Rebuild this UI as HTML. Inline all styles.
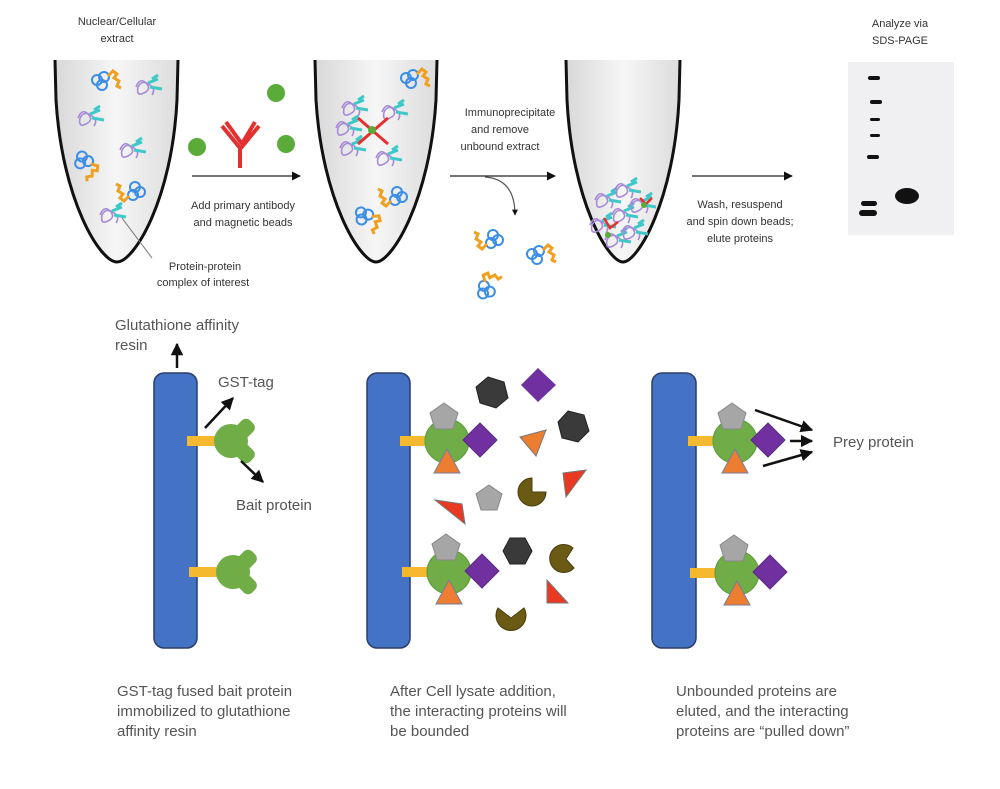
<!DOCTYPE html>
<html><head><meta charset="utf-8"><style>
html,body{margin:0;padding:0;background:#fff;}
svg{display:block;}
text{font-family:"Liberation Sans",sans-serif;}
</style></head><body>
<svg width="1000" height="789" viewBox="0 0 1000 789" xmlns="http://www.w3.org/2000/svg">
<defs>
<linearGradient id="tg" x1="0" x2="1" y1="0" y2="0">
<stop offset="0" stop-color="#d8d8d8"/><stop offset="0.5" stop-color="#f6f6f6"/><stop offset="1" stop-color="#dcdcdc"/>
</linearGradient>
<marker id="ah" viewBox="0 0 10 10" refX="9" refY="5" markerWidth="7" markerHeight="7" orient="auto"><path d="M0,0 L10,5 L0,10 z" fill="#111"/></marker>
<marker id="ah2" viewBox="0 0 10 10" refX="9" refY="5" markerWidth="5" markerHeight="5" orient="auto"><path d="M0,0 L10,5 L0,10 z" fill="#111"/></marker>
<g id="cx">
<rect x="-47" y="-5" width="36" height="10" fill="#f4b92e"/>
<circle cx="0" cy="0" r="22" fill="#70ad47" stroke="#5a9a3a" stroke-width="1"/>
<polygon points="-3,-38 11,-28 6,-12 -12,-12 -17,-28" fill="#a6a6a6" stroke="#888"/>
<polygon points="33,-18 50,-1 33,16 16,-1" fill="#7030a0" stroke="#5a2a80"/>
<polygon points="0,8 13,32 -13,32" fill="#ed7d31" stroke="#7a7a9a"/>
</g>
<g id="bait">
<rect x="-47" y="-5" width="36" height="10" fill="#f4b92e"/>
<g fill="#70ad47">
<circle cx="-3" cy="0" r="17"/>
<rect x="-8" y="-9" width="34" height="16" rx="6" transform="rotate(-45)"/>
<rect x="-8" y="-7" width="34" height="16" rx="6" transform="rotate(45)"/>
</g>
</g>
<g id="bc" fill="none" stroke-width="2">
<circle cx="-4" cy="0" r="5" stroke="#3b8ee6"/><circle cx="3" cy="-3" r="5" stroke="#3b8ee6"/><circle cx="1" cy="5" r="5" stroke="#3b8ee6"/>
<path d="M7,-4 l5,-5 l4,3 l-3,4 l5,3 l-2,5 l4,2" stroke="#f0a020" stroke-width="3"/>
</g>
<g id="pc" fill="none" stroke-width="1.6">
<path d="M-10,0 q4,-10 10,-4 q6,6 -2,10 q-8,4 -6,-6 q4,-8 12,-2 q6,4 2,10" stroke="#a88ad8"/>
<path d="M2,-4 l10,-4 M4,0 l12,2 M6,-8 l6,-4" stroke="#40c8c8" stroke-width="3"/>
</g>
</defs>

<text x="117" y="25" font-size="11" fill="#333" text-anchor="middle">Nuclear/Cellular</text>
<text x="117" y="42" font-size="11" fill="#333" text-anchor="middle">extract</text>

<path d="M55,60 L56,100 C62,200 100,262 117,262 C134,262 172,200 177,100 L178,60" fill="url(#tg)" stroke="#111" stroke-width="3"/>
<path d="M315,60 L316,100 C322,200 360,262 376,262 C392,262 430,200 436,100 L437,60" fill="url(#tg)" stroke="#111" stroke-width="3"/>
<path d="M566,60 L567,100 C572,200 608,262 623,262 C638,262 674,200 679,100 L680,60" fill="url(#tg)" stroke="#111" stroke-width="3"/>

<use href="#bc" x="101" y="80"/>
<use href="#pc" x="146" y="87"/>
<use href="#pc" x="88" y="118"/>
<use href="#pc" x="130" y="150"/>
<use href="#bc" x="84" y="160" transform="rotate(60 84 160)"/>
<use href="#bc" x="136" y="192" transform="rotate(180 136 192)"/>
<use href="#pc" x="110" y="215"/>
<line x1="122" y1="218" x2="152" y2="258" stroke="#777" stroke-width="1"/>
<text x="205" y="270" font-size="11" fill="#333" text-anchor="middle">Protein-protein</text>
<text x="203" y="286" font-size="11" fill="#333" text-anchor="middle">complex of interest</text>

<circle cx="197" cy="147" r="9" fill="#5aab3a"/>
<circle cx="276" cy="93" r="9" fill="#5aab3a"/>
<circle cx="286" cy="144" r="9" fill="#5aab3a"/>
<path d="M222,126 l18,22 l0,20 M259,126 l-18,22 M226,122 l16,22 M255,122 l-12,20" stroke="#e53030" stroke-width="4" fill="none"/>
<line x1="192" y1="176" x2="300" y2="176" stroke="#222" stroke-width="1.3" marker-end="url(#ah)"/>
<text x="243" y="209" font-size="11" fill="#333" text-anchor="middle">Add primary antibody</text>
<text x="243" y="226" font-size="11" fill="#333" text-anchor="middle">and magnetic beads</text>

<use href="#bc" x="410" y="78"/>
<use href="#bc" x="398" y="197" transform="rotate(180 398 197)"/>
<use href="#bc" x="364" y="215" transform="rotate(40 364 215)"/>
<use href="#pc" x="352" y="108"/>
<use href="#pc" x="392" y="112"/>
<use href="#pc" x="350" y="148"/>
<use href="#pc" x="386" y="158"/>
<use href="#pc" x="346" y="128"/>
<path d="M358,118 l30,26 M388,118 l-30,26" stroke="#e53030" stroke-width="3"/>
<circle cx="372" cy="130" r="4" fill="#5aab3a"/>

<text x="510" y="116" font-size="11" fill="#333" text-anchor="middle">Immunoprecipitate</text>
<text x="500" y="133" font-size="11" fill="#333" text-anchor="middle">and remove</text>
<text x="500" y="150" font-size="11" fill="#333" text-anchor="middle">unbound extract</text>
<line x1="450" y1="176" x2="555" y2="176" stroke="#222" stroke-width="1.3" marker-end="url(#ah)"/>
<path d="M485,177 q30,2 30,38" stroke="#555" stroke-width="1.2" fill="none" marker-end="url(#ah2)"/>
<use href="#bc" x="494" y="240" transform="rotate(180 494 240)"/>
<use href="#bc" x="536" y="254"/>
<use href="#bc" x="485" y="290" transform="rotate(-60 485 290)"/>

<use href="#pc" x="605" y="200"/>
<use href="#pc" x="625" y="190"/>
<use href="#pc" x="600" y="225"/>
<use href="#pc" x="622" y="215"/>
<use href="#pc" x="640" y="205"/>
<use href="#pc" x="615" y="240"/>
<use href="#pc" x="632" y="232"/>
<path d="M604,218 l6,10 l8,-6 M640,198 l6,6 l6,-6" stroke="#e53030" stroke-width="2.5" fill="none"/>
<circle cx="608" cy="235" r="3" fill="#5aab3a"/><circle cx="644" cy="205" r="3" fill="#5aab3a"/>

<line x1="692" y1="176" x2="792" y2="176" stroke="#222" stroke-width="1.3" marker-end="url(#ah)"/>
<text x="740" y="208" font-size="11" fill="#333" text-anchor="middle">Wash, resuspend</text>
<text x="740" y="225" font-size="11" fill="#333" text-anchor="middle">and spin down beads;</text>
<text x="740" y="242" font-size="11" fill="#333" text-anchor="middle">elute proteins</text>

<text x="900" y="27" font-size="11" fill="#333" text-anchor="middle">Analyze via</text>
<text x="900" y="44" font-size="11" fill="#333" text-anchor="middle">SDS-PAGE</text>
<rect x="848" y="62" width="106" height="173" fill="#f0f0f2"/>
<g fill="#111">
<rect x="868" y="76" width="12" height="4" rx="2"/>
<rect x="870" y="100" width="12" height="4" rx="2"/>
<rect x="870" y="118" width="10" height="3" rx="1.5"/>
<rect x="870" y="134" width="10" height="3" rx="1.5"/>
<rect x="867" y="155" width="12" height="4" rx="2"/>
<rect x="861" y="201" width="16" height="5" rx="2.5"/>
<rect x="859" y="210" width="18" height="6" rx="3"/>
<ellipse cx="907" cy="196" rx="12" ry="8"/>
</g>

<text x="115" y="330" font-size="15" fill="#555">Glutathione affinity</text>
<text x="115" y="350" font-size="15" fill="#555">resin</text>
<line x1="177" y1="368" x2="177" y2="344" stroke="#111" stroke-width="2.5" marker-end="url(#ah2)"/>

<rect x="154" y="373" width="43" height="275" rx="10" fill="#4472c4" stroke="#2a3f6a" stroke-width="1.5"/>
<rect x="367" y="373" width="43" height="275" rx="10" fill="#4472c4" stroke="#2a3f6a" stroke-width="1.5"/>
<rect x="652" y="373" width="44" height="275" rx="10" fill="#4472c4" stroke="#2a3f6a" stroke-width="1.5"/>

<use href="#bait" x="234" y="441"/>
<use href="#bait" x="236" y="572"/>
<text x="218" y="387" font-size="15" fill="#555">GST-tag</text>
<line x1="205" y1="428" x2="233" y2="398" stroke="#111" stroke-width="2.5" marker-end="url(#ah2)"/>
<line x1="241" y1="461" x2="263" y2="482" stroke="#111" stroke-width="2.5" marker-end="url(#ah2)"/>
<text x="236" y="510" font-size="15" fill="#555">Bait protein</text>

<use href="#cx" x="447" y="441"/>
<use href="#cx" x="449" y="572"/>
<polygon points="488,377 504,382 508,398 496,408 480,403 476,387" fill="#3a3a3a" stroke="#222"/>
<polygon points="538,368 556,385 538,402 521,385" fill="#7030a0"/>
<polygon points="568,411 584,415 589,431 578,442 562,438 558,422" fill="#3a3a3a" stroke="#222"/>
<polygon points="520,437 546,430 536,456" fill="#ed7d31" stroke="#777"/>
<polygon points="563,473 586,470 566,497" fill="#e83a22" stroke="#777"/>
<polygon points="435,500 462,504 465,524" fill="#e83a22" stroke="#777"/>
<polygon points="489,485 502,494 497,510 481,510 476,494" fill="#a6a6a6" stroke="#888"/>
<path d="M532,478 A14,14 0 1,0 546,492 L532,492 Z" fill="#6b5a14" stroke="#4a3e10"/>
<polygon points="510,538 525,538 532,551 525,564 510,564 503,551" fill="#3a3a3a" stroke="#222"/>
<path d="M573,548 A14,14 0 1,0 574,568 L566,559 Z" fill="#6b5a14" stroke="#4a3e10"/>
<polygon points="547,580 547,603 568,603" fill="#e83a22" stroke="#777"/>
<path d="M498,608 A15,15 0 1,0 524,608 L511,618 Z" fill="#6b5a14" stroke="#4a3e10"/>

<use href="#cx" x="735" y="441"/>
<use href="#cx" x="737" y="573"/>
<line x1="755" y1="410" x2="812" y2="430" stroke="#111" stroke-width="2.5" marker-end="url(#ah2)"/>
<line x1="790" y1="441" x2="812" y2="441" stroke="#111" stroke-width="2.5" marker-end="url(#ah2)"/>
<line x1="763" y1="466" x2="812" y2="452" stroke="#111" stroke-width="2.5" marker-end="url(#ah2)"/>
<text x="833" y="447" font-size="15" fill="#555">Prey protein</text>

<g font-size="15" fill="#555">
<text x="117" y="696">GST-tag fused bait protein</text>
<text x="117" y="716">immobilized to glutathione</text>
<text x="117" y="736">affinity resin</text>
<text x="390" y="696">After Cell lysate addition,</text>
<text x="390" y="716">the interacting proteins will</text>
<text x="390" y="736">be bounded</text>
<text x="676" y="696">Unbounded proteins are</text>
<text x="676" y="716">eluted, and the interacting</text>
<text x="676" y="736">proteins are “pulled down”</text>
</g>
</svg>
</body></html>
